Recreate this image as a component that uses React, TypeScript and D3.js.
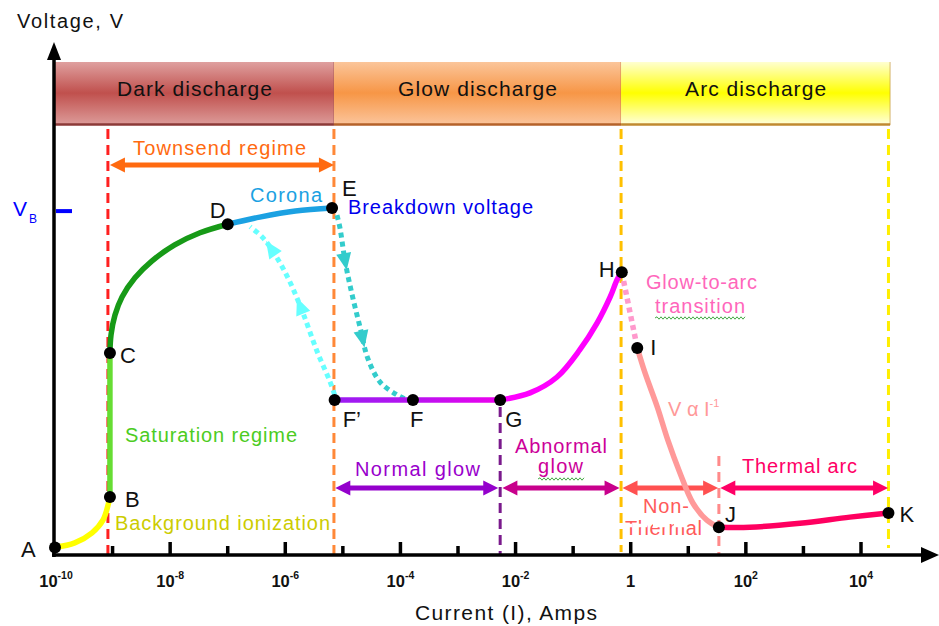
import React, { useEffect, useRef } from 'react'
import * as d3 from 'd3'

// current in A, voltage in arbitrary units (0..100)
const bgIonI = [1e-10, 2.2e-10, 4.4e-10, 6.8e-10, 9e-10]
const bgIonV = [1.5, 2.4, 4.4, 6.9, 11.5]
const saturationI = [9e-10, 9e-10]
const saturationV = [11.5, 40]
const townsendI = [9e-10, 9.4e-10, 1.1e-9, 1.46e-9, 2.45e-9, 4.8e-9, 1.2e-8, 3.3e-8, 1e-7]
const townsendV = [40, 43.6, 47.5, 51.1, 54.9, 58.2, 61.4, 63.8, 65.5]
const coronaI = [1e-7, 3.6e-7, 1.5e-6, 6.5e-6]
const coronaV = [65.5, 66.9, 68.1, 68.7]
const normalGlowI = [7.2e-6, 1.65e-4, 5.4e-3]
const normalGlowV = [30.7, 30.7, 30.7]
const abnormalI = [5.4e-3, 0.0178, 0.052, 0.13, 0.26, 0.44, 0.58, 0.7]
const abnormalV = [30.7, 32.1, 35.2, 40.6, 45.9, 51.1, 54.5, 56]
const transitionI = [0.7, 1.3]
const transitionV = [56, 41]
const nonThermalI = [1.3, 1.78, 2.9, 4.4, 7.2, 12, 21, 34]
const nonThermalV = [41, 36, 29.3, 22.8, 16.2, 10.3, 6.9, 5.5]
const thermalI = [34, 117, 870, 6400, 3e4]
const thermalV = [5.5, 5.5, 6.3, 7.5, 8.3]

// dotted hysteresis paths
const upPathI = [7.2e-6, 6.0e-6, 3.6e-6, 2.0e-6, 1.2e-6, 7.2e-7, 4.1e-7, 2.45e-7]
const upPathV = [31.7, 34.3, 40.2, 48.1, 54.1, 58.8, 62.8, 65]
const downPathI = [7.9e-6, 8.9e-6, 1.1e-5, 1.45e-5, 2.0e-5, 2.7e-5, 4.4e-5, 8.7e-5, 1.2e-4]
const downPathV = [67.3, 64.8, 58, 51.5, 45, 39, 34.3, 31.7, 30.9]

const pointNames = ['A', 'B', 'C', 'D', 'E', 'F\u2019', 'F', 'G', 'H', 'I', 'J', 'K']
const pointI = [1e-10, 9e-10, 9e-10, 1e-7, 6.5e-6, 7.2e-6, 1.65e-4, 5.4e-3, 0.7, 1.3, 34, 3e4]
const pointV = [1.5, 11.5, 40, 65.5, 68.7, 30.7, 30.7, 30.7, 56, 41, 5.5, 8.3]

const breakdownV = 68.1

const bandNames = ['Dark discharge', 'Glow discharge', 'Arc discharge']
const bandEdges = [1e-10, 7e-6, 0.68, 3.2e4]

const majorTicks = [1e-10, 1e-8, 1e-6, 1e-4, 1e-2, 1, 1e2, 1e4]
const majorBase = ['10', '10', '10', '10', '10', '1', '10', '10']
const majorExp = ['-10', '-8', '-6', '-4', '-2', '', '2', '4']
const minorTicks = [1e-9, 1e-7, 1e-5, 1e-3, 1e-1, 10, 1e3]

const FONT = '"Liberation Sans", Arial, sans-serif'

const xScale = d3.scaleLog().domain([1e-10, 1e4]).range([55, 861])
const yScale = d3.scaleLinear().domain([0, 100]).range([555, 50])

const zip = (xs: number[], ys: number[]) => xs.map((x, i) => [x, ys[i]] as [number, number])

const curve = d3.line<[number, number]>()
  .x(d => xScale(d[0]))
  .y(d => yScale(d[1]))
  .curve(d3.curveCatmullRom.alpha(0.5))

function Arrow2({ x1, x2, y, color }: { x1: number; x2: number; y: number; color: string }) {
  const hl = 15, hw = 7.5
  return (
    <g fill={color}>
      <line x1={x1 + hl - 1} x2={x2 - hl + 1} y1={y} y2={y} stroke={color} strokeWidth={5} />
      <polygon points={`${x1},${y} ${x1 + hl},${y - hw} ${x1 + hl},${y + hw}`} />
      <polygon points={`${x2},${y} ${x2 - hl},${y - hw} ${x2 - hl},${y + hw}`} />
    </g>
  )
}

function wavy(x1: number, x2: number, y: number) {
  let d = `M${x1},${y}`
  let up = true
  for (let x = x1 + 2; x <= x2; x += 2) {
    d += ` L${x},${y + (up ? -1.2 : 1.2)}`
    up = !up
  }
  return d
}

export default function App() {
  const flowRef = useRef<SVGGElement>(null)

  useEffect(() => {
    if (!flowRef.current) return
    const g = d3.select(flowRef.current)
    g.selectAll('*').remove()

    const flows = [
      { pts: zip(upPathI, upPathV), color: '#66ffff', heads: [0.5, 0.84] },
      { pts: zip(downPathI, downPathV), color: '#33cccc', heads: [0.23, 0.62] },
    ]
    flows.forEach(f => {
      const path = g.append('path')
        .attr('d', curve(f.pts))
        .attr('fill', 'none')
        .attr('stroke', f.color)
        .attr('stroke-width', 5)
        .attr('stroke-dasharray', '5 4')
      const node = path.node() as SVGPathElement
      const L = node.getTotalLength()
      f.heads.forEach(t => {
        const p = node.getPointAtLength(L * t)
        const q = node.getPointAtLength(Math.min(L, L * t + 2))
        const ang = Math.atan2(q.y - p.y, q.x - p.x) * 180 / Math.PI
        g.append('polygon')
          .attr('points', '9,0 -8,-7.5 -8,7.5')
          .attr('transform', `translate(${p.x},${p.y}) rotate(${ang})`)
          .attr('fill', f.color)
      })
    })
  }, [])

  const bandColors = [
    ['#dfa09f', '#c0504d', '#dc9a98', '#8c3a38'],
    ['#fbc59a', '#f79646', '#fbc49a', '#b5622a'],
    ['#ffffd0', '#ffff00', '#ffffd8', '#c08a30'],
  ]
  const bandTextW = [155, 159, 141]

  const gx = xScale(5.4e-3)
  const fpx = xScale(7.2e-6)

  return (
    <svg width={939} height={626} style={{ position: 'absolute', left: 0, top: 0, background: '#fff' }} fontFamily={FONT}>
      <defs>
        {bandColors.map((c, i) => (
          <linearGradient key={i} id={`band${i}`} x1="0" x2="0" y1="0" y2="1">
            <stop offset="0%" stopColor={c[0]} />
            <stop offset="50%" stopColor={c[1]} />
            <stop offset="100%" stopColor={c[2]} />
          </linearGradient>
        ))}
        <linearGradient id="normalGlow" gradientUnits="userSpaceOnUse" x1={fpx} x2={gx} y1={0} y2={0}>
          <stop offset="0%" stopColor="#9a1cf2" />
          <stop offset="45%" stopColor="#b414f0" />
          <stop offset="100%" stopColor="#ee00ee" />
        </linearGradient>
      </defs>

      {/* discharge bands */}
      {bandNames.map((name, i) => {
        const x0 = xScale(bandEdges[i]), x1 = xScale(bandEdges[i + 1])
        return (
          <g key={name}>
            <rect x={x0} y={62} width={x1 - x0} height={62} fill={`url(#band${i})`} />
            <line x1={x0} x2={x1} y1={124.5} y2={124.5} stroke={bandColors[i][3]} strokeWidth={2.5} />
            <line x1={x1} x2={x1} y1={62} y2={125} stroke={bandColors[i][3]} strokeWidth={1} opacity={0.6} />
            <text x={(x0 + x1) / 2} y={96} textAnchor="middle" fontSize={21} fill="#111"
              textLength={bandTextW[i]} lengthAdjust="spacing">{name}</text>
          </g>
        )
      })}

      {/* regime boundaries */}
      <g fill="none" strokeWidth={3} strokeDasharray="10 6">
        <line x1={xScale(8.3e-10)} x2={xScale(8.3e-10)} y1={129} y2={555} stroke="#ff2020" />
        <line x1={xScale(7e-6)} x2={xScale(7e-6)} y1={129} y2={555} stroke="#ff8838" />
        <line x1={xScale(0.68)} x2={xScale(0.68)} y1={129} y2={552} stroke="#ffc000" />
        <line x1={xScale(3e4)} x2={xScale(3e4)} y1={129} y2={548} stroke="#ffee00" />
        <line x1={gx} x2={gx} y1={407} y2={555} stroke="#7a1a8c" />
        <line x1={xScale(34)} x2={xScale(34)} y1={456} y2={555} stroke="#ff8a8a" />
      </g>

      {/* axes */}
      <g stroke="#000" strokeWidth={3.5}>
        <line x1={54} x2={54} y1={557} y2={56} />
        <line x1={52} x2={924} y1={555} y2={555} />
        {majorTicks.slice(1).map(t => (
          <line key={t} x1={xScale(t)} x2={xScale(t)} y1={555} y2={542} />
        ))}
        {minorTicks.map(t => (
          <line key={t} x1={xScale(t)} x2={xScale(t)} y1={555} y2={546} />
        ))}
      </g>
      <polygon points="54,42 47,60 61,60" fill="#000" />
      <polygon points="939,555 921,547 921,563" fill="#000" />

      {majorTicks.map((t, i) => (
        <text key={t} x={xScale(t) + (i === 0 ? 1 : 0)} y={587} textAnchor="middle" fontSize={16.5} fontWeight="bold" fill="#111">
          {majorBase[i]}
          {majorExp[i] && <tspan fontSize={10.5} dy={-8}>{majorExp[i]}</tspan>}
        </text>
      ))}

      <text x={415} y={620} fontSize={21} fill="#111" textLength={182} lengthAdjust="spacing">Current (I), Amps</text>
      <text x={17} y={28} fontSize={20} fill="#111" textLength={106} lengthAdjust="spacing">Voltage, V</text>

      {/* breakdown voltage marker */}
      <line x1={56} x2={72} y1={yScale(breakdownV)} y2={yScale(breakdownV)} stroke="#0000ff" strokeWidth={4} />
      <text x={13} y={216} fontSize={21} fill="#0000ff">V</text>
      <text x={29} y={223} fontSize={12} fill="#0000ff">B</text>

      {/* regime arrows */}
      <Arrow2 x1={xScale(9e-10)} x2={xScale(7e-6)} y={165} color="#ff6a10" />
      <Arrow2 x1={xScale(7.4e-6)} x2={xScale(5.0e-3)} y={488} color="#9400cc" />
      <Arrow2 x1={xScale(5.9e-3)} x2={xScale(0.64)} y={488} color="#c8008c" />
      <Arrow2 x1={xScale(0.72)} x2={xScale(33)} y={488} color="#ff5050" />
      <Arrow2 x1={xScale(36)} x2={xScale(2.95e4)} y={488} color="#ff0066" />

      {/* region labels */}
      <g fontSize={20} lengthAdjust="spacing">
        <text x={133} y={155} fill="#ff6a10" textLength={173}>Townsend regime</text>
        <text x={250} y={202} fill="#1ba1e2" textLength={72}>Corona</text>
        <text x={348} y={214} fill="#0000ee" textLength={185}>Breakdown voltage</text>
        <text x={125} y={442} fill="#4ccc22" textLength={172}>Saturation regime</text>
        <text x={115} y={530} fill="#cccc00" textLength={215}>Background ionization</text>
        <text x={355} y={476} fill="#9900cc" textLength={125}>Normal glow</text>
        <text x={515} y={453} fill="#cc0099" textLength={92}>Abnormal</text>
        <text x={538} y={473} fill="#cc0099" textLength={45}>glow</text>
        <text x={646} y={289} fill="#ff66bb" textLength={111}>Glow-to-arc</text>
        <text x={655} y={313} fill="#ff66bb" textLength={90}>transition</text>
        <text x={742} y={473} fill="#ff0066" textLength={115}>Thermal arc</text>
        <text x={643} y={513} fill="#ff5a5a" textLength={46}>Non-</text>
        <text x={625} y={535} fill="#ff5a5a" textLength={77}>Thermal</text>
      </g>
      <line x1={616} x2={690} y1={525.5} y2={525.5} stroke="#fff" strokeWidth={3.5} strokeDasharray="16 5 10 6" />
      <text x={668} y={416} fontSize={20} fill="#ff9999">
        V {'\u03b1'} I<tspan fontSize={11} dy={-9}>-1</tspan>
      </text>
      <g fill="none" stroke="#44aa44" strokeWidth={1}>
        <path d={wavy(655, 745, 318)} />
        <path d={wavy(538, 584, 479)} />
      </g>

      {/* hysteresis paths */}
      <g ref={flowRef} />

      {/* characteristic */}
      <g fill="none" strokeWidth={5.5} strokeLinecap="round">
        <path d={curve(zip(bgIonI, bgIonV)) ?? ''} stroke="#ffff00" />
        <path d={curve(zip(saturationI, saturationV)) ?? ''} stroke="#66dd33" strokeLinecap="butt" />
        <path d={curve(zip(townsendI, townsendV)) ?? ''} stroke="#179a17" />
        <path d={curve(zip(coronaI, coronaV)) ?? ''} stroke="#1ba1e2" />
        <path d={curve(zip(normalGlowI, normalGlowV)) ?? ''} stroke="url(#normalGlow)" strokeLinecap="butt" />
        <path d={curve(zip(abnormalI, abnormalV)) ?? ''} stroke="#ff00ff" />
        <path d={curve(zip(transitionI, transitionV)) ?? ''} stroke="#ff99cc" strokeDasharray="5 4" strokeLinecap="butt" />
        <path d={curve(zip(nonThermalI, nonThermalV)) ?? ''} stroke="#ff9999" />
        <path d={curve(zip(thermalI, thermalV)) ?? ''} stroke="#ff0060" />
      </g>

      {/* points */}
      {pointNames.map((n, i) => (
        <circle key={n} cx={xScale(pointI[i])} cy={yScale(pointV[i])} r={6} fill="#000" />
      ))}
      <g fontSize={22} fill="#111">
        {pointNames.map((n, i) => {
          const off: Record<string, [number, number]> = {
            'A': [-34, 10], 'B': [15, 10], 'C': [10, 10], 'D': [-18, -6],
            'E': [10, -12], 'F\u2019': [8, 27], 'F': [-3, 27], 'G': [5, 27],
            'H': [-23, 5], 'I': [13, 7], 'J': [6, -5], 'K': [11, 9],
          }
          const o = off[n]
          return (
            <text key={n} x={xScale(pointI[i]) + o[0]} y={yScale(pointV[i]) + o[1]}>{n}</text>
          )
        })}
      </g>
    </svg>
  )
}
